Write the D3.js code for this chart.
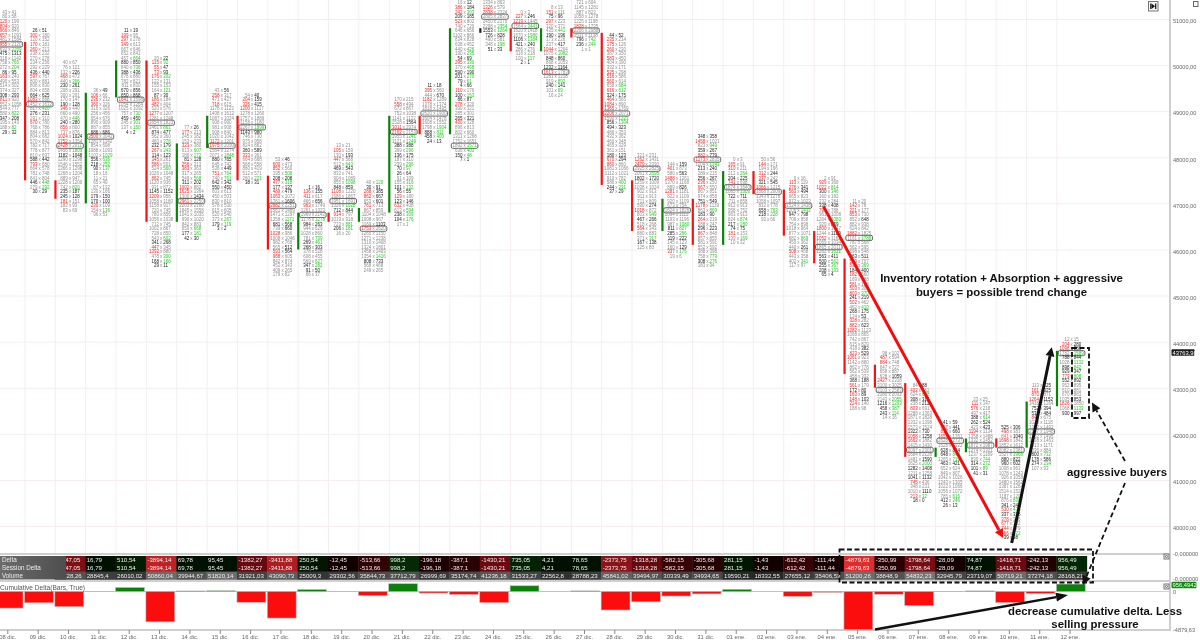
<!DOCTYPE html>
<html><head><meta charset="utf-8">
<script src="https://cdn.jsdelivr.net/npm/d3@7/dist/d3.min.js"></script>
<style>html,body{margin:0;padding:0;background:#fff}svg{display:block;filter:blur(0.3px)}text{font-family:"Liberation Sans",Arial,sans-serif}</style>
</head><body><svg id="c" width="1200" height="640"></svg>
<script>
const dates=["08 dic.","09 dic.","10 dic.","11 dic.","12 dic.","13 dic.","14 dic.","15 dic.","16 dic.","17 dic.","18 dic.","19 dic.","20 dic.","21 dic.","22 dic.","23 dic.","24 dic.","25 dic.","26 dic.","27 dic.","28 dic.","29 dic.","30 dic.","31 dic.","01 ene.","02 ene.","03 ene.","04 ene.","05 ene.","06 ene.","07 ene.","08 ene.","09 ene.","10 ene.","11 ene.","12 ene."];
const topPrices=[51150,50750,50050,49450,50750,50150,48650,49450,49350,47950,47350,48250,47450,49250,49550,51350,51350,51150,51250,51350,50650,48050,47850,48450,47950,47950,47550,47550,47050,43750,43050,42250,42750,42150,43050,44050];
const pocRows=[7,16,18,10,15,14,16,12,7,10,6,12,10,7,6,31,3,3,14,6,17,3,10,5,6,7,6,15,8,8,14,4,10,5,10,3];
const opens=[null,50500,47500,47000,49300,50100,46600,48200,48900,47600,46000,46800,46600,46800,48900,48500,50700,50800,50300,50800,50700,47500,46400,47100,46100,47700,47300,46400,45800,43500,43100,41500,41600,41900,41700,42600];
const closes=[null,47500,47100,49400,50100,46600,48300,48900,47500,46000,46800,46600,46900,48900,48500,50800,50800,50300,50800,50600,47400,46400,47100,46100,47700,47200,46300,45700,43300,43000,41500,41700,41900,41700,42700,43800];
const darkCandles=["24 dic."];
const footprints=[
"43x41 80x58 !120x199 !804x920 !966x846 !657x1091 481x1584 !955x2120 632x2269+ *475x1313 318x1142 758x765+ 272x204+ *86x95 !163x240 490x553 514x502 374x327 *308x293 !811x920 552x1058 544x777 580x822+ *347x208 195x143 188x82+ *29x32",
"*26x51 !300x180 120x152 !170x181 !260x213 238x232 270x278 234x256 292x229 *436x440 !597x767 800x881 806x830 804x658 *664x625 !1083x888 1452x1632 817x420+ *276x231 291x310 !670x780 768x786 884x813 804x682 570x842 782x717 778x877 810x697 *588x442 !793x680 664x578 781x748 841x804 *446x448+ 279x292+ *30x29",
"40x67 76x121 132x*226 !468x472 440x306+ *230x261 208x291 300x201 170x147 *190x128 !346x440 660x490 470x446+ *240x280 !856x800 737x876 !1024x*1024 !1752x1354 !2428x2011 1456x1809+ *1182x1048 1290x1298 1546x1552 1366x1298 1268x1204 889x947 1228x1200 742x820+ *235x187 *245x128 !181x151 182x93 83x69",
"36x*49 !106x66 !236x232 !360x326 316x326 256x456 654x676 890x909 887x855 *686x686 !3500x3042 1281x1142 854x698 1088x1093 1102x1029+ *556x636+ *218x252+ *90x137+ 18x16 11x21 65x49 87x132 130x166 *179x150 *170x100 !230x109 154x136+ 96x53",
"*11x19 !199x95 !297x278 !349x613 667x646 652x841 457x664+ *880x850 840x736+ *388x436 678x880 782x821 811x830 *670x856 *650x868 !1641x1598 1054x1264 1025x1092 757x730+ *459x450 245x301+ 137x150+ *4x2",
"20x*22 !115x92+ !55x*47 !73x*93 !176x202+ 122x131 155x153 164x121+ *87x30 !186x184 !482x404 520x576 !1277x1207 1281x1248 1654x1823 1461x861+ *874x477 562x360 460x378+ *232x179 !267x243+ *114x123 !345x261 !586x501 524x560+ 1026x1048 !862x745 1120x936 931x872 *1145x1152 !1209x958 1058x1180 1158x917 720x745 780x856 1056x1038 712x745 1002x867 728x850 543x602+ *341x268 !447x345 !1392x880 478x300+ *168x160+ *29x11",
"77x*26 !177x213 245x182 153x233 !323x380 613x607+ 186x172+ *81x128 !256x313 !383x363 317x265 549x568+ *311x202 !1002x882 !1625x1364 1300x*1434 !2961x2250 2203x2160 1845x1558 1041x1035 990x1020 842x883 650x668+ *177x181+ *42x30",
"43x*56 !258x317 471x427 !718x615 1178x1123 1408x1612 1087x1024 908x990 981x908 908x840 1020x1042 !1172x1201 !1975x2090 1564x1274 2071x1848+ *880x765 645x742 536x*449 !751x764+ 740x761+ *642x342 *550x450 603x613 450x503 830x810 578x530 615x605 520x540 373x267+ *179x119+ *3x2",
"54x*40 !204x*159 !326x*415 !1200x1117 1278x1260 1757x1889 1158x1180 2267x1899+ *1143x980 746x730 975x958 824x862 *360x589 !333x361 664x668 568x558 860x419 512x571 260x221+ *38x31",
"53x*46 !600x473 !852x560 195x508+ *208x208 !477x318+ *177x137 !489x*479 !1063x1072 1761x*1606 !2882x2251 1561x1489 1471x1297 1358x1171+ *681x568 739x*660 !1028x986 1008x1046 982x768 565x*512 !593x*564 !968x605 842x874 452x343 409x265 179x82",
"*1x16 !136x*155 !411x617 466x*656 !963x1749 1261x1323 1969x2142 1178x1278+ *984x263 944x629 1028x860 781x739+ *269x461+ *268x303 378x528 608x455 569x627+ *347x282+ *91x50 66x37",
"13x21 !105x159 130x*193 !447x568 512x643+ *469x543 833x741 904x1089 855x1098+ *848x859 !1108x1220 1686x1867 1951x1691 1326x1028+ *712x844 !914x797 1019x918 723x881+ *206x181+ 16x20",
"40x120+ *30x91 !288x*385 !862x*667 653x*601 !761x713 867x859 1104x1048 1008x967 1169x*1103 !1753x1620 1265x1150 1271x1238 1310x1408 1324x1801 1458x1493 1354x1416+ *808x733 568x468 249x265",
"170x215 !558x494 672x867 752x1038 1141x1122 1528x*1564 !3011x2974 !2162x2153 1955x1241+ 1121x1249+ *388x388 399x296+ *136x175 187x310 239x296+ *70x97+ *26x64 91x109 155x316+ *101x132+ *56x55 !129x180 *123x146 !632x408 613x594+ *238x309+ *104x176+ 17x1",
"*11x18 !395x560 444x*670 !1182x1289 1378x1374 1818x1495 2620x1900 1604x1478 1608x1552 1798x1904+ *888x811+ *458x400+ *24x13",
"16x*12 !386x*184 !242x303+ *209x185 !523x802 740x720 646x656 1102x866 834x828 638x452 440x426+ 190x235+ *54x69 !295x330+ 170x468+ *590x190 *201x270+ *79x61+ *4x66 !110x176 *100x153+ *86x87 !278x320 390x321 285x301 *265x321 !430x328 896x813 802x660 1311x1268 1752x1651 1892x1571+ 636x403+ *150x48+ *7x1",
"1334x863 !1326x579 !2838x2324 2805x2837 2450x2170 2298x2354+ *1553x1264+ *726x828 490x581 348x198+ *51x33",
"0x3 !227x*246 !1219x1445 1564x3441+ 1620x1418 1670x1980+ *1106x1384+ *421x240 286x276 316x218 100x117+ *2x1",
"8x13 !151x111+ *75x96 !297x223 320x371 435x441+ *190x196 173x226 237x*417 !1044x1204 1075x1082+ *848x860 868x1053 *1232x1164 !1613x1783 1281x1218 919x892+ *240x141 101x69+ 16x24",
"721x604 1145x1281 887x823 1058x1278 1225x1198 !1828x1735 2206x2088 1531x1138 *796x742+ *236x244+ 1x1",
"*44x52 !235x214 !175x126 !260x230 387x350 !583x450 404x390 332x171 !525x298 !516x586 !560x614 658x684+ !616x612+ *324x175 !464x565 !1084x890 !1365x1769 !2206x2071 1590x1221+ *856x1304+ *494x323 486x353 432x362 460x348 465x329 361x151 *180x123 !670x*294 !860x860 1081x1066 1112x1021 910x782 586x400+ *244x231+ *37x29",
"321x231 !1262x1431 !2479x2330 2925x2825 2061x2698+ *1802x1720 1259x1009 1038x1024 902x913 911x913 711x809 590x*274 !1018x872 803x949+ *467x266 518x268 !564x343 880x883 371x317+ *167x138 125x80",
"144x*159 !401x873 580x*563 !1488x1261 1370x1168 889x*826 !1281x1181 822x1109 920x1109 673x754 1624x1826 1094x1112 1193x1196 987x1080+ *811x827+ *285x266+ *119x222 145x123 160x*129 !337x175+ 19x6",
"*348x358 !1458x1021 823x949+ *359x267 !882x*779 !1173x2835 1204x1241+ *213x240 289x215 *256x267 !236x250 !667x550 867x851 974x858 *751x549 !1178x1119 863x869+ *183x90 !264x219 288x247 *296x223 !867x848 857x855 581x591 552x592 388x398 758x779+ *308x276+ 183x94",
"0x3 !165x91 !310x211 212x264+ *204x225 !741x698 1874x1640 1085x1303+ *722x711 711x858 912x913 958x752 963x913 824x874+ *217x280+ *74x75 !181x153 139x169+ 10x32",
"50x56 !144x171 194x166 !312x*244 !337x242 *321x545 !1066x1215 1868x2009 1343x1278 1058x1097 832x778 *658x763+ *218x228+ 93x66",
"0x16 !113x119 !276x*341 !563x*494 665x823 972x1023 1524x1438 1206x1432+ *947x798 709x858 754x898 1018x964 877x1071 682x869+ 450x362 440x*261 !508x458 443x358 402x341+ 117x97",
"2x91 !929x368 !1022x814+ *300x346+ 160x182 232x284 *338x408 !799x788 961x1008 1264x1083+ 929x*859 !1800x1447 1244x*1189 !1052x1162 1069x1034 1865x2011 1282x1521+ *563x411 *500x562+ *255x367+ *208x133+ *65x4",
"11x20 !142x78 !221x177 !853x730 852x*648 882x938 624x842 !1882x1825 1161x1788+ 787x568 562x595 698x548 *563x511 !529x707 !536x369+ *184x400 !182x560 169x188 !581x128 !503x300 !803x370+ *241x219 !502x462 462x410+ *268x175 124x*53 !328x282 !882x*623 !1282x1123 1068x865 742x867 615x829 418x*382 !823x*529 !1061x923 1142x880 862x778 562x539 458x332 *368x188 !561x179 *172x80 !163x*89 !148x*103 !224x140 188x98",
"98x102 !487x594 !884x748 647x727 658x887 628x*1059 !2427x2318 3100x3025 2103x2583 2180x2032 2143x2055+ *1216x1203+ *458x387+ *243x114+ 14x16",
"84x*88 !402x562 624x638+ *308x314 238x*211 !803x691 1288x1363 1871x1828 1332x1398 1573x1524 *1322x730 !1058x*1258 !1662x1882 1415x1430 2097x2301 1684x2128 1481x*1590 1625x2000+ *1282x1408 1211x1258 *1041x1132 !745x436 348x231 1010x*1110 !213x32+ *18x0",
"*41x59 !697x*441 !817x*660 !1657x1761 2628x2737 1528x1322 *628x814 *648x843+ 1265x719+ *463x421 652x624 849x807 1042x1026 1243x1305 1022x1066 1056x1072 785x616+ *412x246+ *26x13",
"23x25 !111x147 !576x218 497x417 *388x614+ *262x524 423x*423 !1194x1134 1358x1488 1332x1452 1872x1987 1274x1321 1237x1189 830x744+ *314x272+ *101x89+ *41x31",
"*525x306 !498x383 841x*1040 !1698x1842 1852x1612 2082x2381 1527x1968+ *880x822 *960x602 1008x963 1078x1243 926x1058 1480x1562 1387x1264 1514x1528 1187x1202 876x838+ *341x242 !530x436+ *337x378 !378x326 !677x382 !744x379 !866x422+ *39x38",
"113x*125 !161x*325 !870x871 !1264x*1152 1418x1264 *752x394 *532x484 !843x675 1028x1118 1352x1492 2187x1948 1352x1495 1528x1463 913x1171 1036x884 *800x732+ *178x586 *274x234+ 107x93",
"12x15 !204x*280 !1098x*889 1782x1589+ *788x844 1028x1132+ *898x842+ *929x347 !773x808+ *552x892 952x895 610x881 670x883 1035x*853 !1826x1850 1068x1133+ *930x997"
];
const tableDates=dates.slice(2);
const deltaValues=[-1947.05,16.79,510.54,-3894.14,69.78,95.45,-1382.27,-3411.88,250.54,-12.45,-513.66,998.2,-196.18,-387.1,-1430.21,735.05,4.21,78.65,-2373.75,-1318.28,-582.15,-305.68,281.15,-1.43,-612.42,-111.44,-4879.63,-350.99,-1798.64,-28.09,74.87,-1418.71,-242.13,956.49];
const volumes=[38728.26,28845.4,26010.02,50860.04,39944.67,51820.14,31921.03,43090.73,25009.3,29302.56,35844.73,37712.79,26999.69,35174.74,41236.18,31533.27,22562.8,28788.23,45841.02,39494.97,30339.49,34934.65,19590.21,18332.55,27655.12,35406.53,51200.26,38848.9,54832.23,32945.79,23719.07,50719.21,37274.18,28168.21];
const cumEarly=[-2130,-1450];
const yTicks=[51000,50000,49000,48000,47000,46000,45000,44000,43000,42000,41000,40000];
const rowLabels=["Delta","Session Delta","Volume"];
const lastPrice=43763.98, lastCum=956.4942;

const svg=d3.select("#c");
const es=n=>String(n).replace(".",",");
const STEP=30.35, X0=24.5-STEP;
const x=d3.scaleBand().domain(dates).range([X0,X0+STEP*dates.length]).padding(0);
const y=d3.scaleLinear().domain([51000,40000]).range([19,526]);
const cumY=d3.scaleLinear().domain([0,-4879.63]).range([591.5,629.5]);
const rowY=d3.scaleBand().domain(rowLabels).range([556,579.5]);
const AXX=1170;

// grid
const grid=svg.append("g");
grid.selectAll(".h").data(yTicks).join("line").attr("x1",0).attr("x2",AXX).attr("y1",d=>y(d)+.5).attr("y2",d=>y(d)+.5).attr("stroke","#f6edf0");
grid.selectAll(".v").data(dates).join("line").attr("x1",d=>x(d)+.5).attr("x2",d=>x(d)+.5).attr("y1",0).attr("y2",553).attr("stroke","#f6edf0");

// footprint cells
const COL={gray:"#8e8e8e",black:"#1c1c1c",red:"#f92828",green:"#28cc28"};
const parse=r=>{const [l,m]=r.split("x");const all=l.startsWith("*");const red=l.includes("!");const grn=m.endsWith("+");
  return {a:l.replace(/[!*]/g,""),b:m.replace(/[+*]/g,""),ca:red?COL.red:all?COL.black:COL.gray,cb:grn?COL.green:(all||m.includes("*"))?COL.black:COL.gray};};
const fp=svg.append("g").attr("font-size",4.5);
dates.forEach((d,i)=>{
  const cx=x(d)+15.2, rows=footprints[i].split(" ").map(parse);
  const g=fp.append("g");
  const rowPos=j=>y(topPrices[i]-100*j);
  g.append("rect").attr("x",cx-13.3).attr("y",rowPos(pocRows[i])-2.6).attr("width",26.6).attr("height",5.2).attr("rx",1.5)
    .attr("fill","#fff").attr("stroke","#555").attr("stroke-width",.9);
  const s=g.selectAll("g").data(rows).join("g").attr("transform",(r,j)=>`translate(${cx},${rowPos(j)+1.6})`);
  s.append("text").attr("text-anchor","end").attr("x",-2.2).attr("fill",r=>r.ca).text(r=>r.a);
  s.append("text").attr("text-anchor","middle").attr("fill",COL.gray).text("x");
  s.append("text").attr("x",2.2).attr("fill",r=>r.cb).text(r=>r.b);
});

// candles
svg.append("g").selectAll("rect").data(dates.filter((d,i)=>opens[i]!==null)).join("rect")
  .attr("x",d=>x(d)-.5).attr("width",2.2)
  .attr("y",d=>{const i=dates.indexOf(d);return y(Math.max(opens[i],closes[i]));})
  .attr("height",d=>{const i=dates.indexOf(d);return Math.abs(y(opens[i])-y(closes[i]));})
  .attr("fill",d=>{const i=dates.indexOf(d);return darkCandles.includes(d)?"#222":closes[i]>opens[i]?"#0a820a":"#f51212";});

// table
const redS=d3.scaleLinear().domain([0,.3,1]).range(["#120000","#6e0a10","#e02c2c"]);
const grnS=d3.scaleLinear().domain([0,1]).range(["#021002","#0a8a0a"]);
const volS=d3.scaleLinear().domain([0,55000]).range(["#000","#747474"]);
const tbl=svg.append("g").attr("font-size",6.1);
const rowData=[deltaValues,deltaValues,volumes];
rowLabels.forEach((lab,ri)=>{
  const g=tbl.append("g");
  const vals=rowData[ri];
  g.selectAll("rect").data(tableDates).join("rect").attr("x",d=>x(d)).attr("width",STEP+.4).attr("y",rowY(lab)).attr("height",rowY.bandwidth()+.3)
    .attr("fill",(d,i)=>ri===2?volS(vals[i]):vals[i]<0?redS(-vals[i]/4879.63):grnS(Math.min(1,vals[i]/4879.63)));
  g.selectAll("text").data(tableDates).join("text").attr("x",d=>x(d)+1.5).attr("y",rowY(lab)+rowY.bandwidth()/2+2.1).attr("fill","#ececec")
    .text((d,i)=>es(vals[i]));
});
const lg=svg.append("defs").append("linearGradient").attr("id","lab");
lg.append("stop").attr("offset",0).attr("stop-color","#6c6c6c");lg.append("stop").attr("offset",1).attr("stop-color","#4e4e4e");
tbl.append("rect").attr("x",0).attr("y",556).attr("width",66).attr("height",23.5).attr("fill","url(#lab)");
tbl.selectAll(".lab").data(rowLabels).join("text").attr("x",2).attr("y",d=>rowY(d)+rowY.bandwidth()/2+2.1).attr("fill","#ececec").attr("font-size",6.3).text(d=>d);

// panel lines
[[554,2],[581,2],[630,2]].forEach(([yy,w])=>svg.append("rect").attr("x",0).attr("y",yy-w/2).attr("width",AXX).attr("height",w).attr("fill","#cfcfcf"));
svg.append("rect").attr("x",AXX-1).attr("y",0).attr("width",2).attr("height",631).attr("fill","#cfcfcf");

// cumulative bars
const cumVals=[...cumEarly,...deltaValues];
svg.append("line").attr("x1",0).attr("x2",AXX).attr("y1",cumY(0)).attr("y2",cumY(0)).attr("stroke","#d0d0d0");
svg.append("g").selectAll("rect").data(dates).join("rect").attr("x",d=>x(d)).attr("width",STEP-1.5)
  .attr("y",(d,i)=>Math.min(cumY(0),cumY(cumVals[i]))).attr("height",(d,i)=>Math.abs(cumY(cumVals[i])-cumY(0)))
  .attr("fill",(d,i)=>cumVals[i]<0?"#fb0d0d":"#0a820a").attr("stroke","#bbb").attr("stroke-width",.6);
svg.append("text").attr("x",0).attr("y",590).attr("font-size",6.6).attr("fill","#555").text("Cumulative Delta(Bars, True)");

// axes
const styleAxis=g=>{g.select(".domain").remove();g.selectAll("text").attr("fill","#666").attr("font-size",5.6).attr("font-family","Liberation Sans");};
svg.append("g").attr("transform",`translate(${AXX+3},2)`).call(d3.axisRight(y).tickValues(yTicks).tickSize(0).tickPadding(0).tickFormat(d=>d+",00")).call(styleAxis);
svg.append("g").attr("transform",`translate(${AXX+3},0)`).call(d3.axisRight(cumY).tickValues([0,-4879.63]).tickSize(0).tickPadding(0).tickFormat(d=>d===0?"0":es(d))).call(styleAxis);
svg.append("g").attr("transform","translate(-1.5,630)").call(d3.axisBottom(x).tickValues(dates).tickSize(4).tickPadding(1).tickFormat(d=>d)).call(g=>{styleAxis(g);g.selectAll("line").attr("stroke","#888");g.selectAll("text").attr("font-size",5.8);});
[554,579].forEach(yy=>svg.append("text").attr("x",AXX+3).attr("y",yy+2).attr("font-size",5.6).attr("fill","#666").text("-0,000000"));

// tags
const tag=(cy,w,fill,t)=>{svg.append("rect").attr("x",AXX+1.5).attr("y",cy-3.2).attr("width",w).attr("height",6.4).attr("rx",1).attr("fill",fill);
  svg.append("text").attr("x",AXX+2.5).attr("y",cy+2).attr("font-size",5.8).attr("fill","#fff").text(t);};
tag(y(lastPrice),23,"#1c1c1c",es(lastPrice));
tag(585,25,"#0e8a0e",es(lastCum));

// icons
const icon=(xx,yy)=>{svg.append("rect").attr("x",xx).attr("y",yy).attr("width",5).attr("height",5).attr("fill","#fff").attr("stroke","#666").attr("stroke-width",.9);
 svg.append("circle").attr("cx",xx+2.5).attr("cy",yy+2.5).attr("r",1.1).attr("fill","none").attr("stroke","#333").attr("stroke-width",.7);};
icon(1164,554);icon(1164,584);
svg.append("rect").attr("x",1148.5).attr("y",1.5).attr("width",9.5).attr("height",9.5).attr("fill","#f4f4f4").attr("stroke","#777");
svg.append("path").attr("d","M1150.8 3.5V9M1155.7 3.5V9").attr("stroke","#111").attr("stroke-width",1.2);
svg.append("path").attr("d","M1151.5 3.5L1155 6.2L1151.5 9Z").attr("fill","#111");
svg.append("rect").attr("x",1193.5).attr("y",1.5).attr("width",4.5).attr("height",5).attr("fill","#fff").attr("stroke","#666");

// annotations
const arrow=(p,q,col,w,dash,hl=9,hw=4.5)=>{
  const a=Math.atan2(q[1]-p[1],q[0]-p[0]),bx=q[0]-Math.cos(a)*hl,by=q[1]-Math.sin(a)*hl;
  const l=svg.append("line").attr("x1",p[0]).attr("y1",p[1]).attr("x2",bx).attr("y2",by).attr("stroke",col).attr("stroke-width",w);
  if(dash)l.attr("stroke-dasharray",dash);
  const nx=-Math.sin(a)*hw,ny=Math.cos(a)*hw;
  svg.append("path").attr("d",`M${q[0]} ${q[1]}L${bx+nx} ${by+ny}L${bx-nx} ${by-ny}Z`).attr("fill",col);
};
const P=(d,off,price)=>[x(d)+off,y(price)];
arrow(P("04 ene.",10,46930),P("10 ene.",7.5,39740),"#f20d0d",3);
arrow(P("10 ene.",16,39630),P("12 ene.",-4.6,43880),"#111",3);
arrow([875,629.5],[1068,595],"#111",2.4,null,12,4.5);
arrow([1125,461],[1092,402.5],"#111",1.8,"5 3");
arrow([1125,483],[1083,585],"#111",1.8,"5 3");
const dashBox=(x0,y0,x1,y1)=>svg.append("rect").attr("x",x0).attr("y",y0).attr("width",x1-x0).attr("height",y1-y0).attr("fill","none").attr("stroke","#111").attr("stroke-width",1.8).attr("stroke-dasharray","5 2.5");
dashBox(839.5,549.5,1093,582.5);
dashBox(1072,348,1089,418);
const note=(cx,cy,t)=>svg.append("text").attr("x",cx).attr("y",cy).attr("text-anchor","middle").attr("font-size",11.4).attr("font-weight",700).attr("fill","#111").text(t);
note(1001.5,281.5,"Inventory rotation + Absorption + aggressive");
note(1001.5,295.5,"buyers = possible trend change");
note(1117,476,"aggressive buyers");
note(1095,614.5,"decrease cumulative delta. Less");
note(1095,628,"selling pressure");
</script></body></html>
